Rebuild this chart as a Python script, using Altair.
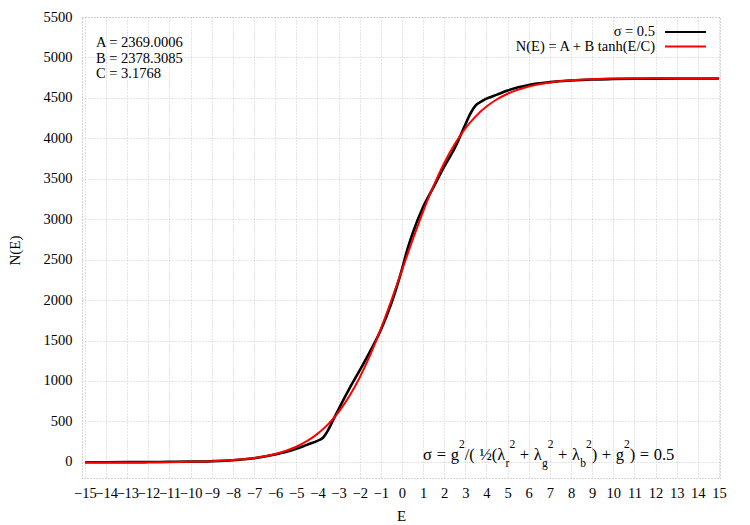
import altair as alt
import pandas as pd

# ---- data ----
E_data = [-15, -14, -13, -12, -11, -10, -9, -8, -7, -6, -5.5, -5, -4.5, -4, -3.75,
          -3.5, -3.25, -3, -2.5, -2, -1.5, -1, -0.5, 0, 0.25, 0.5, 1, 1.5, 2, 2.5,
          3, 3.25, 3.5, 3.75, 4, 4.5, 5, 5.5, 6, 7, 8, 9, 10, 11, 12, 13, 14, 15]
N_data = [-5, -5, -4, -3, 0, 2, 8, 20, 45, 90, 120, 160, 210, 260, 295,
          390, 520, 650, 900, 1130, 1370, 1630, 1960, 2380, 2620, 2820, 3150, 3400, 3650, 3880,
          4170, 4310, 4410, 4455, 4490, 4540, 4590, 4630, 4660, 4695, 4715, 4728, 4733, 4736, 4738, 4739, 4740, 4740]

E_fit = [-15, -14, -13, -12, -11, -10, -9, -8, -7, -6, -5, -4.5, -4, -3.5, -3, -2.5, -2,
         -1.5, -1, -0.5, 0, 0.5, 1, 1.5, 2, 2.5, 3, 3.5, 4, 4.5, 5, 6, 7, 8, 9, 10,
         11, 12, 13, 14, 15]
N_fit = [-8.9, -8.6, -8.0, -6.8, -4.6, -0.6, 7.1, 21.4, 48.0, 97.1, 186.6, 255.0, 345.5, 463.7,
         615.7, 807.2, 1042.6, 1322.7, 1644.1, 1997.7, 2369.0, 2740.3, 3093.9, 3415.3, 3695.4,
         3930.8, 4122.3, 4274.3, 4392.5, 4483.0, 4551.4, 4640.9, 4690.0, 4716.6, 4730.9,
         4738.6, 4742.6, 4744.8, 4746.0, 4746.6, 4746.9]

x_ticks = list(range(-15, 16))
y_ticks = list(range(0, 5501, 500))

fit_params = ["A = 2369.0006", "B = 2378.3085", "C = 3.1768"]
legend_labels = ["σ = 0.5", "N(E) = A + B tanh(E/C)"]
legend_colors = ["#000000", "#ff0000"]

FONT = "Liberation Serif"
W, H = 638, 461

df = pd.concat([
    pd.DataFrame({"E": E_data, "N": N_data, "s": "data"}),
    pd.DataFrame({"E": E_fit, "N": N_fit, "s": "fit"}),
], ignore_index=True)

xscale = alt.Scale(domain=[-15.14, 15.05], nice=False, zero=False)
yscale = alt.Scale(domain=[-200, 5500], nice=False, zero=False)

xaxis = alt.Axis(values=x_ticks, title="E", grid=True, domain=False, ticks=False,
                 labelOverlap=False, labelFlush=False, labelPadding=8, labelFont=FONT,
                 labelFontSize=14.5, labelColor="#000", titleFont=FONT, titleFontSize=15,
                 titleFontWeight="normal", titleColor="#000", titleX=W / 2, titleY=37,
                 titleBaseline="middle", format="d")
yaxis = alt.Axis(values=y_ticks, title="N(E)", grid=True, domain=False, ticks=False,
                 labelOverlap=False, labelPadding=10, labelFont=FONT, labelFontSize=14.5, labelColor="#000",
                 titleFont=FONT, titleFontSize=15, titleFontWeight="normal", titleColor="#000",
                 titleX=-68, titleY=233, titleAngle=-90, titleBaseline="middle", format="d")

base = alt.Chart(df).encode(
    x=alt.X("E:Q", scale=xscale, axis=xaxis),
    y=alt.Y("N:Q", scale=yscale, axis=yaxis),
)

black = base.transform_filter(alt.datum.s == "data").mark_line(
    color="#000000", strokeWidth=2.6, interpolate="monotone")
red = base.transform_filter(alt.datum.s == "fit").mark_line(
    color="#ff0000", strokeWidth=2, interpolate="monotone")

layers = [black, red]

# fit parameter texts
for i, t in enumerate(fit_params):
    layers.append(alt.Chart(pd.DataFrame({"t": [t]})).mark_text(
        font=FONT, fontSize=14.5, align="left", baseline="middle", color="#000"
    ).encode(text="t:N", x=alt.value(96 - 82), y=alt.value(43 - 17 + 15.5 * i)))

# legend
for i, (lab, col) in enumerate(zip(legend_labels, legend_colors)):
    yy = 32 - 17 + 14.5 * i
    layers.append(alt.Chart(pd.DataFrame({"t": [lab]})).mark_text(
        font=FONT, fontSize=14.5, align="right", baseline="middle", color="#000"
    ).encode(text="t:N", x=alt.value(655 - 82), y=alt.value(yy)))
    layers.append(alt.Chart(pd.DataFrame({"t": [lab]})).mark_rule(
        color=col, strokeWidth=2.2
    ).encode(x=alt.value(665 - 82), x2=alt.value(706 - 82), y=alt.value(yy)))

# formula annotation: sigma = g^2/( 1/2(l_r^2 + l_g^2 + l_b^2) + g^2) = 0.5
# pieces: (text, kind, spaces before)
EM = {"σ": 0.56, "=": 0.564, "g": 0.5, "2": 0.5, "/": 0.278, "(": 0.333, ")": 0.333,
      "½": 0.75, "λ": 0.5, "r": 0.333, "b": 0.5, "+": 0.564, "0": 0.5, ".": 0.25, "5": 0.5}
pieces = [
    ("σ", "m", 0), ("=", "m", 1), ("g", "m", 1), ("2", "sup", 0), ("/(", "m", 0),
    ("½(λ", "m", 1), ("r", "sub", 0), ("2", "sup", 0), ("+", "m", 1), ("λ", "m", 1),
    ("g", "sub", 0), ("2", "sup", 0), ("+", "m", 1), ("λ", "m", 1), ("b", "sub", 0),
    ("2", "sup", 0), (")", "m", 0), ("+", "m", 1), ("g", "m", 1), ("2", "sup", 0),
    (")", "m", 0), ("=", "m", 1), ("0.5", "m", 1),
]
ypos = {"m": 455, "sup": 445, "sub": 464}
fsize = {"m": 16.5, "sup": 11.5, "sub": 11.5}
SPACE = 4.6
xcur = 423.0
for t, kind, nsp in pieces:
    xcur += nsp * SPACE
    layers.append(alt.Chart(pd.DataFrame({"t": [t]})).mark_text(
        font=FONT, fontSize=fsize[kind], align="left", baseline="middle", color="#000"
    ).encode(text="t:N", x=alt.value(xcur - 82), y=alt.value(ypos[kind] - 17)))
    xcur += sum(EM[c] for c in t) * fsize[kind]

chart = alt.layer(*layers).properties(
    width=W, height=H,
    autosize=alt.AutoSizeParams(type="none"),
    padding={"left": 82, "top": 17, "right": 30, "bottom": 47},
    background="white",
).configure_view(
    stroke="#aaaaaa", strokeDash=[1, 2], strokeWidth=1
).configure_axis(
    gridColor="#c8c8c8", gridDash=[1, 2], gridWidth=1, gridOpacity=1, labelOverlap=False
)

chart.save("out.html", embed_options={"renderer": "svg", "actions": False})
